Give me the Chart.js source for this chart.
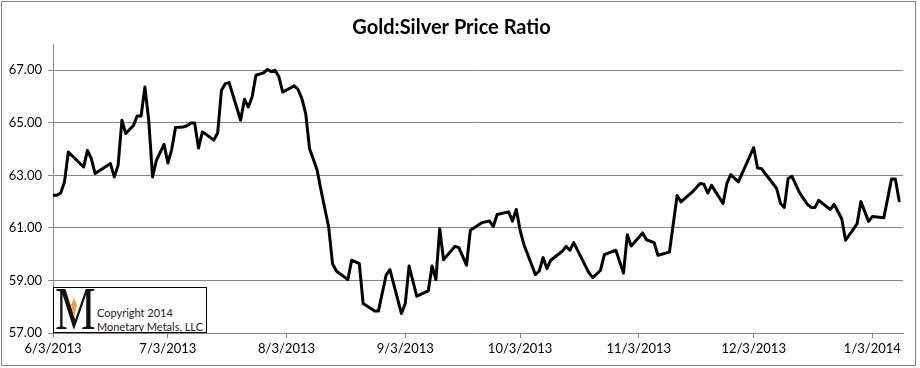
<!DOCTYPE html>
<html>
<head>
<meta charset="utf-8">
<script src="https://cdn.jsdelivr.net/npm/chart.js@4"></script>
<style>
    html, body { margin: 0; padding: 0; background: #fff; }
    #wrap { position: relative; width: 920px; height: 368px; }
    #logo {
        position: absolute; left: 53px; top: 287px; width: 152px; height: 44px;
        border: 1px solid #000; background: #fff; box-sizing: content-box; overflow: hidden;
        font-family: Lato, "Open Sans", sans-serif; font-size: 11px; color: #222;
    }
    #logo .m {
        position: absolute; left: 1px; top: -10px; font-family: "Liberation Serif", serif;
        font-size: 61px; line-height: 1; transform: scaleX(0.75); transform-origin: left top;
        color: #111;
    }
    #logo .gem {
        position: absolute; left: 17px; top: 10px; width: 6px; height: 19px;
        background: #f0a030; clip-path: polygon(50% 0, 100% 35%, 50% 100%, 0 35%);
    }
    #logo .txt { position: absolute; left: 43px; top: 18px; line-height: 14px; white-space: nowrap; }
</style>
</head>
<body>
<div id="wrap">
    <canvas id="ratioChart" width="920" height="368"></canvas>
    <div id="logo">
        <span class="m">M</span>
        <span class="gem"></span>
        <div class="txt">Copyright 2014<br>Monetary Metals, LLC</div>
    </div>
</div>
<script>
// 距 2013-06-03 的天数
const days = [0, 1, 2, 3, 4, 8, 9, 10, 11, 15, 16, 17, 18, 19, 21, 22, 23, 24, 25, 26,
    27, 29, 30, 31, 32, 34, 35, 36, 37, 38, 39, 40, 42, 43, 44, 45, 46, 47, 49, 50,
    51, 52, 53, 55, 56, 57, 58, 59, 60, 63, 64, 65, 66, 67, 69, 70, 72, 73, 74, 77,
    78, 80, 81, 84, 85, 87, 88, 91, 92, 93, 95, 98, 99, 100, 101, 102, 105, 106, 108, 109,
    112, 114, 115, 116, 119, 120, 121, 122, 123, 126, 127, 128, 129, 130, 133, 134, 135, 136, 140, 141,
    143, 144, 147, 149, 150, 151, 154, 155, 157, 158, 161, 163, 164, 167, 169, 170, 171, 172, 175, 176,
    177, 179, 183, 184, 185, 187, 189, 190, 191, 192, 193, 195, 197, 198, 199, 200, 203, 204, 206, 207,
    210, 211, 213, 214, 217, 219, 220, 221];

const ratio = [62.24, 62.24, 62.33, 62.75, 63.89, 63.32, 63.95, 63.64, 63.07, 63.45, 62.94, 63.38, 65.10, 64.59, 64.90, 65.26, 65.26, 66.36, 65.10, 62.94,
    63.57, 64.18, 63.47, 63.98, 64.82, 64.84, 64.89, 64.99, 64.99, 64.04, 64.65, 64.56, 64.34, 64.61, 66.24, 66.49, 66.53, 66.05, 65.10, 65.90,
    65.60, 65.98, 66.81, 66.90, 67.03, 66.95, 67.00, 66.75, 66.17, 66.41, 66.27, 65.92, 65.35, 64.02, 63.19, 62.43, 61.03, 59.64, 59.36, 59.03,
    59.77, 59.64, 58.12, 57.84, 57.84, 59.20, 59.41, 57.74, 58.12, 59.55, 58.40, 58.60, 59.55, 59.03, 60.97, 59.79, 60.30, 60.25, 59.58, 60.91,
    61.20, 61.26, 61.06, 61.51, 61.61, 61.26, 61.70, 60.91, 60.36, 59.22, 59.36, 59.87, 59.45, 59.77, 60.11, 60.30, 60.15, 60.44, 59.28, 59.11,
    59.39, 59.98, 60.15, 59.28, 60.74, 60.31, 60.81, 60.55, 60.44, 59.96, 60.08, 62.23, 61.99, 62.37, 62.69, 62.66, 62.33, 62.62, 61.93, 62.69,
    63.03, 62.75, 64.06, 63.28, 63.26, 62.88, 62.50, 61.93, 61.78, 62.88, 62.96, 62.33, 61.90, 61.78, 61.78, 62.05, 61.70, 61.90, 61.35, 60.53,
    61.15, 62.00, 61.25, 61.43, 61.39, 62.86, 62.86, 62.03];

const tickDays = [0, 30, 61, 92, 122, 153, 183, 214];
const tickLabels = ['6/3/2013', '7/3/2013', '8/3/2013', '9/3/2013', '10/3/2013', '11/3/2013', '12/3/2013', '1/3/2014'];
const yTicks = [57, 59, 61, 63, 65, 67];

const gridGray = '#868686';

// 外框
const frame = {
    id: 'frame',
    afterDraw(chart) {
        const ctx = chart.ctx;
        ctx.save();
        ctx.strokeStyle = gridGray;
        ctx.lineWidth = 1;
        ctx.strokeRect(1.5, 1.5, 914, 364);
        ctx.restore();
    }
};

new Chart(document.getElementById('ratioChart').getContext('2d'), {
    type: 'line',
    data: {
        datasets: [{
            label: 'Gold:Silver',
            data: days.map((d, i) => ({ x: d, y: ratio[i] })),
            borderColor: '#000',
            borderWidth: 3,
            pointRadius: 0,
            tension: 0,
            borderJoinStyle: 'round',
            borderCapStyle: 'round'
        }]
    },
    options: {
        responsive: false,
        animation: false,
        layout: { padding: { left: 0, right: 17, top: 0, bottom: 0 } },
        plugins: {
            legend: { display: false },
            tooltip: { enabled: false },
            title: {
                display: true,
                text: 'Gold:Silver Price Ratio',
                color: '#000',
                font: { family: 'Lato', size: 20, weight: 'bold' },
                padding: { top: 16, bottom: 4 }
            }
        },
        scales: {
            x: {
                type: 'linear',
                min: 0,
                max: 222,
                afterBuildTicks: scale => { scale.ticks = tickDays.map(v => ({ value: v })); },
                afterFit: scale => { scale.height = 35; },
                ticks: {
                    autoSkip: false,
                    maxRotation: 0,
                    padding: 3,
                    color: '#000',
                    font: { family: 'Lato', size: 13 },
                    callback: value => tickLabels[tickDays.indexOf(value)]
                },
                grid: { drawOnChartArea: false, drawTicks: true, tickLength: 5, tickColor: gridGray },
                border: { display: true, color: gridGray }
            },
            y: {
                min: 57,
                max: 68,
                afterBuildTicks: scale => { scale.ticks = yTicks.map(v => ({ value: v })); },
                afterFit: scale => { scale.width = 53; },
                ticks: {
                    padding: 6,
                    color: '#000',
                    font: { family: 'Lato', size: 13 },
                    callback: value => value.toFixed(2)
                },
                grid: { color: gridGray, lineWidth: 1, tickLength: 5 },
                border: { display: true, color: gridGray }
            }
        }
    },
    plugins: [frame]
});
</script>
</body>
</html>
